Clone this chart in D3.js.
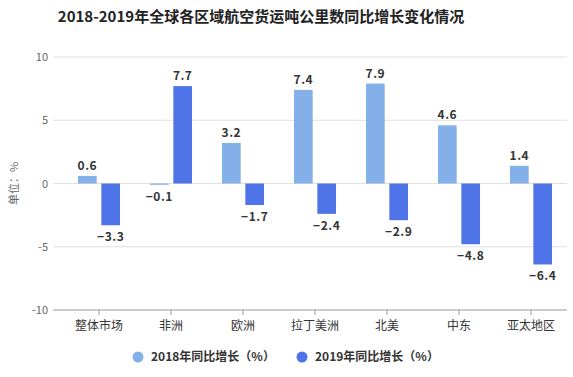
<!DOCTYPE html>
<html>
<head>
<meta charset="utf-8">
<script src="https://cdn.jsdelivr.net/npm/d3@7"></script>
<style>
  body { margin: 0; background: #fff; }
  text { font-family: "Microsoft YaHei", "Noto Sans CJK SC", sans-serif; }
</style>
</head>
<body>
<div id="wrapper"></div>
<script>
// DATA
const categories = ["整体市场", "非洲", "欧洲", "拉丁美洲", "北美", "中东", "亚太地区"]
const growth2018 = [0.6, -0.1, 3.2, 7.4, 7.9, 4.6, 1.4]
const growth2019 = [-3.3, 7.7, -1.7, -2.4, -2.9, -4.8, -6.4]
const seriesNames = ["2018年同比增长（%）", "2019年同比增长（%）"]
const yTicks = [-10, -5, 0, 5, 10]

const colors = ["#84b0ea", "#4f74e7"]

const width = 573
const height = 377

const svg = d3.select("#wrapper")
  .append("svg")
  .attr("width", width)
  .attr("height", height)

// title
svg.append("text")
  .attr("x", 261)
  .attr("y", 22)
  .attr("text-anchor", "middle")
  .style("font-size", "15px")
  .style("font-weight", "bold")
  .attr("fill", "#222")
  .text("2018-2019年全球各区域航空货运吨公里数同比增长变化情况")

// SCALES
const y = d3.scaleLinear().domain([-10, 10]).range([310, 57])
const x = d3.scaleBand().domain(categories).range([63, 567])
const xInner = d3.scaleBand().domain([0, 1]).range([-21, 21]).paddingInner(0.2)

// gridlines
svg.append("g")
  .selectAll("line")
  .data(yTicks.filter(d => d !== -10))
  .join("line")
  .attr("x1", 53)
  .attr("x2", 567)
  .attr("y1", d => y(d))
  .attr("y2", d => y(d))
  .attr("stroke", "#e0e0e0")

// y tick labels
svg.append("g")
  .selectAll("text")
  .data(yTicks)
  .join("text")
  .attr("x", 48)
  .attr("y", d => y(d) + 4)
  .attr("text-anchor", "end")
  .style("font-size", "11px")
  .attr("fill", "#666")
  .text(d => d)

// unit label
svg.append("text")
  .attr("transform", `translate(18, ${y(0)}) rotate(-90)`)
  .attr("text-anchor", "middle")
  .style("font-size", "11px")
  .attr("fill", "#666")
  .text("单位：%")

// x axis at bottom
const xAxis = svg.append("g")
  .attr("transform", `translate(0, ${y(-10)})`)
xAxis.append("line")
  .attr("x1", 53).attr("x2", 567)
  .attr("stroke", "#999")
xAxis.selectAll(".tick")
  .data(categories)
  .join("line")
  .attr("x1", d => x(d) + x.bandwidth() / 2)
  .attr("x2", d => x(d) + x.bandwidth() / 2)
  .attr("y1", 0).attr("y2", 5)
  .attr("stroke", "#999")
xAxis.selectAll("text")
  .data(categories)
  .join("text")
  .attr("x", d => x(d) + x.bandwidth() / 2)
  .attr("y", 20)
  .attr("text-anchor", "middle")
  .style("font-size", "12px")
  .attr("fill", "#333")
  .text(d => d)

// BARS
const series = [growth2018, growth2019]
series.forEach((values, s) => {
  const g = svg.append("g")
  const cx = (d, i) => x(categories[i]) + x.bandwidth() / 2 + xInner(s)
  g.selectAll("rect")
    .data(values)
    .join("rect")
    .attr("x", (d, i) => cx(d, i))
    .attr("width", xInner.bandwidth())
    .attr("y", d => y(Math.max(0, d)))
    .attr("height", d => Math.abs(y(d) - y(0)))
    .attr("fill", colors[s])

  g.selectAll("text")
    .data(values)
    .join("text")
    .attr("x", (d, i) => cx(d, i) + xInner.bandwidth() / 2)
    .attr("y", d => d >= 0 ? y(d) - 6 : y(d) + 16)
    .attr("text-anchor", "middle")
    .style("font-size", "12px")
    .style("font-weight", "bold")
    .style("letter-spacing", "0.5px")
    .attr("fill", "#333")
    .text(d => d < 0 ? "\u2212" + Math.abs(d) : d)
})

// LEGEND
const legend = svg.append("g")
  .selectAll("g")
  .data(seriesNames)
  .join("g")
  .attr("transform", (d, i) => `translate(${[138, 302][i]}, 357)`)
legend.append("circle")
  .attr("r", 5.5)
  .attr("fill", (d, i) => colors[i])
legend.append("text")
  .attr("x", 13)
  .attr("y", 4)
  .style("font-size", "12px")
  .style("font-weight", "bold")
  .attr("fill", "#333")
  .text(d => d)
</script>
</body>
</html>
